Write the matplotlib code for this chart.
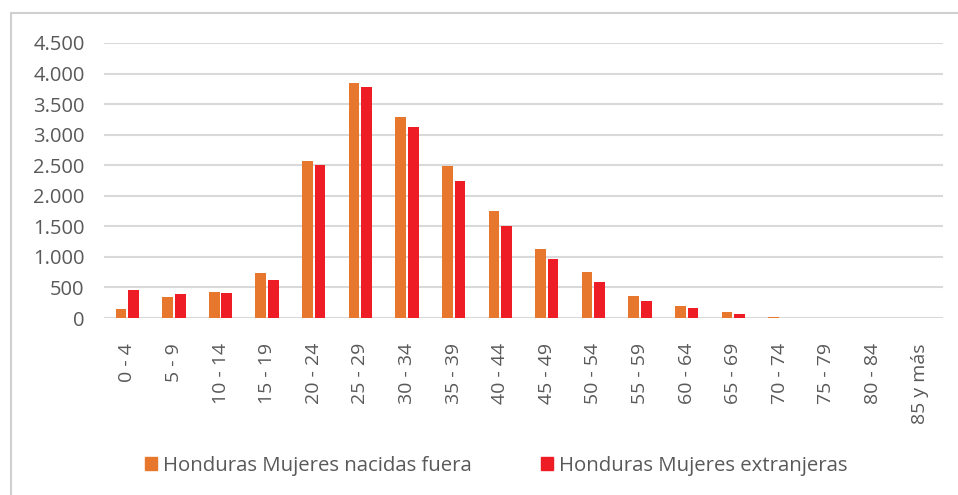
import matplotlib
matplotlib.use('Agg')
import matplotlib.pyplot as plt
import matplotlib.patches as mpatches
import numpy as np

groups = ['0 - 4', '5 - 9', '10 - 14', '15 - 19', '20 - 24', '25 - 29', '30 - 34',
          '35 - 39', '40 - 44', '45 - 49', '50 - 54', '55 - 59', '60 - 64', '65 - 69',
          '70 - 74', '75 - 79', '80 - 84', '85 y más']
nacidas_fuera = [150, 340, 420, 730, 2570, 3840, 3285, 2490, 1750, 1135, 755, 360, 200, 105,
                 15, 5, 2, 0]
extranjeras = [460, 395, 415, 620, 2505, 3785, 3120, 2240, 1505, 960, 590, 278, 158, 60,
               8, 3, 1, 0]
yticks = [0, 500, 1000, 1500, 2000, 2500, 3000, 3500, 4000, 4500]
ytick_labels = ['0', '500', '1.000', '1.500', '2.000', '2.500', '3.000', '3.500', '4.000', '4.500']

c_orange = '#E8772E'
c_red = '#EE1C25'
txt = '#595959'

fig = plt.figure(figsize=(9.58, 4.95), dpi=100)
fig.patch.set_facecolor('white')

# chart frame (only top and left edge visible in the crop)
frame = mpatches.Rectangle((11 / 958, -0.2), 1.2, 1 - 13 / 495 + 0.2, transform=fig.transFigure,
                           fill=False, edgecolor='#d0d0d0', linewidth=1.5)
fig.patches.append(frame)

ax = fig.add_axes([104 / 958, 1 - 318 / 495, (943 - 104) / 958, (318 - 43) / 495])

x = np.arange(len(groups))
w = 0.23
ax.bar(x - 0.135, nacidas_fuera, width=w, color=c_orange, zorder=2)
ax.bar(x + 0.135, extranjeras, width=w, color=c_red, zorder=2)

ax.set_xlim(-0.5, len(groups) - 0.5)
ax.set_ylim(0, 4500)
ax.set_yticks(yticks)
ax.set_yticklabels(ytick_labels, fontsize=14.5, color=txt, family='Open Sans')
ax.set_xticks(x)
ax.set_xticklabels(groups, rotation=90, fontsize=14, color=txt, family='Open Sans')
ax.tick_params(axis='both', length=0)
ax.tick_params(axis='y', pad=14)
ax.tick_params(axis='x', pad=18)
for s in ax.spines.values():
    s.set_visible(False)
ax.yaxis.grid(True, color='#d9d9d9', linewidth=1.5, zorder=0)
ax.set_axisbelow(True)

handles = [mpatches.Patch(color=c_orange, label='Honduras Mujeres nacidas fuera'),
           mpatches.Patch(color=c_red, label='Honduras Mujeres extranjeras')]
leg = fig.legend(handles=handles, loc='center', bbox_to_anchor=(0.518, 1 - 466 / 495), ncol=2,
                 frameon=False, handlelength=0.6, handleheight=0.6, handletextpad=0.3,
                 columnspacing=3.4,
                 prop={'family': 'Open Sans', 'size': 14.7})
for t in leg.get_texts():
    t.set_color(txt)

fig.savefig('out.png', dpi=100, facecolor='white')
